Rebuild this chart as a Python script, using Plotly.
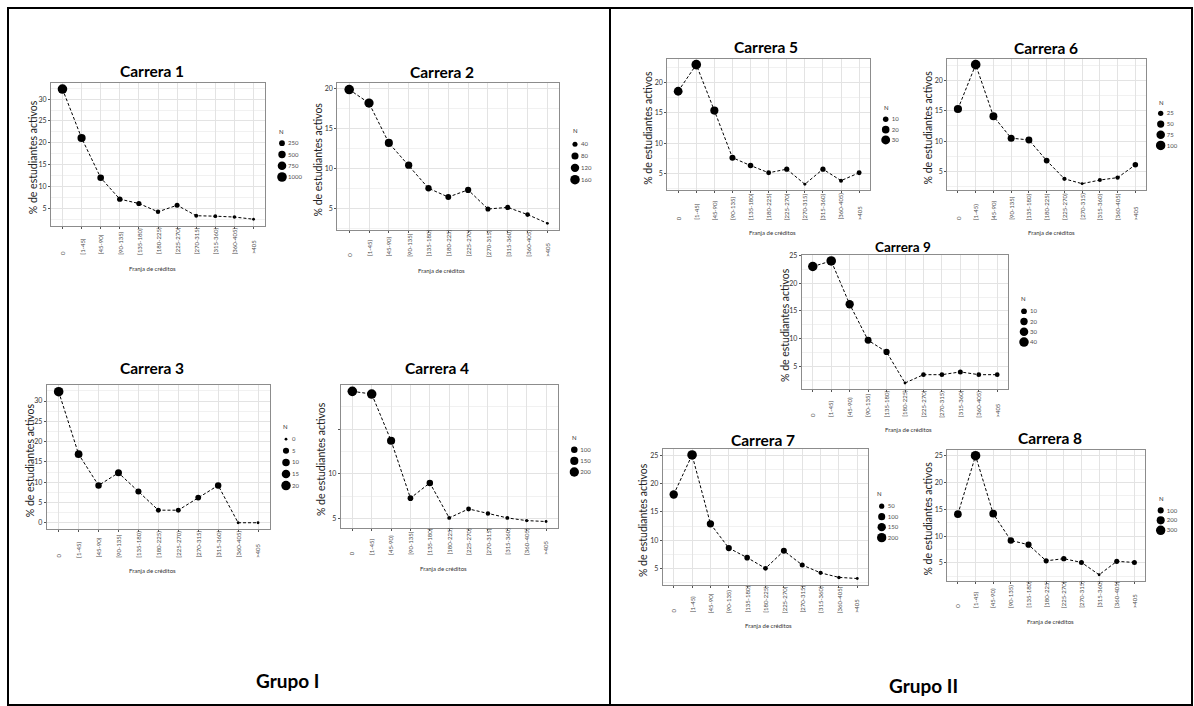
import math
import plotly.graph_objects as go

W, H = 1194, 706

# ---------------- data ----------------
franjas = ["0", "[1-45)", "[45-90)", "[90-135)", "[135-180)", "[180-225)",
           "[225-270)", "[270-315)", "[315-360)", "[360-405)", ">405"]

pct_c1 = [32.3, 21.1, 12.0, 7.1, 6.1, 4.2, 5.7, 3.3, 3.2, 3.0, 2.5]
n_c1 = [1000, 655, 372, 220, 189, 132, 177, 102, 99, 93, 78]
breaks_c1 = [250, 500, 750, 1000]

pct_c2 = [19.9, 18.2, 13.2, 10.4, 7.5, 6.4, 7.3, 4.9, 5.1, 4.2, 3.1]
n_c2 = [163, 149, 109, 85, 62, 53, 60, 41, 42, 35, 25]
breaks_c2 = [40, 80, 120, 160]

pct_c3 = [32.3, 16.9, 9.2, 12.3, 7.7, 3.1, 3.1, 6.2, 9.2, 0.0, 0.0]
n_c3 = [21, 11, 6, 8, 5, 2, 2, 4, 6, 0, 0]
breaks_c3 = [0, 5, 10, 15, 20]

pct_c4 = [19.2, 18.9, 13.7, 7.3, 9.0, 5.1, 6.1, 5.6, 5.1, 4.8, 4.7]
n_c4 = [211, 208, 151, 80, 99, 56, 67, 62, 56, 53, 52]
breaks_c4 = [100, 150, 200]

pct_c5 = [18.6, 23.0, 15.4, 7.6, 6.3, 5.1, 5.7, 3.2, 5.7, 3.8, 5.1]
n_c5 = [29, 36, 24, 12, 10, 8, 9, 5, 9, 6, 8]
breaks_c5 = [10, 20, 30]

pct_c6 = [15.3, 22.6, 14.1, 10.5, 10.2, 6.8, 3.8, 3.0, 3.6, 4.0, 6.1]
n_c6 = [68, 101, 63, 47, 45, 30, 17, 13, 16, 18, 27]
breaks_c6 = [25, 50, 75, 100]

pct_c7 = [18.1, 25.1, 12.9, 8.6, 6.9, 5.0, 8.1, 5.6, 4.2, 3.4, 3.2]
n_c7 = [152, 211, 108, 72, 58, 42, 68, 47, 35, 29, 27]
breaks_c7 = [50, 100, 150, 200]

pct_c8 = [14.1, 25.0, 14.2, 9.2, 8.4, 5.4, 5.8, 5.1, 2.8, 5.3, 5.1]
n_c8 = [176, 313, 178, 115, 106, 68, 73, 64, 35, 66, 64]
breaks_c8 = [100, 200, 300]

pct_c9 = [23.0, 24.0, 16.2, 9.7, 7.6, 2.0, 3.5, 3.5, 4.0, 3.5, 3.5]
n_c9 = [39, 41, 28, 17, 13, 3, 6, 6, 7, 6, 6]
breaks_c9 = [10, 20, 30, 40]

# ---------------- layout (pixel positions) ----------------
carreras = [
    dict(name="Carrera 1", pct=pct_c1, n=n_c1, brk=breaks_c1, panel=(51, 265, 79, 223),
         title=(152, 67), xt=(152, 266), yt=33, lab=253, leg=(282, 140, 174), nt=(277, 128)),
    dict(name="Carrera 2", pct=pct_c2, n=n_c2, brk=breaks_c2, panel=(337.3, 559.3, 79.3, 227.3),
         title=(441.7, 68), xt=(441.7, 267.7), yt=318, lab=255, leg=(575, 141, 176.7), nt=(571, 127.7)),
    dict(name="Carrera 3", pct=pct_c3, n=n_c3, brk=breaks_c3, panel=(46.7, 270, 383.3, 528.3),
         title=(152, 366), xt=(152, 570), yt=30, lab=558, leg=(286, 437.7, 484.3), nt=(281, 425)),
    dict(name="Carrera 4", pct=pct_c4, n=n_c4, brk=breaks_c4, panel=(340.7, 557.7, 383, 527),
         title=(437, 366), xt=(443, 567.7), yt=321.7, lab=555, leg=(574.3, 448.3, 470.7), nt=(570, 435.7),
         yticktext=["5", "10", "", ""]),
    dict(name="Carrera 5", pct=pct_c5, n=n_c5, brk=breaks_c5, panel=(667.3, 870, 55, 187.3),
         title=(765.7, 43.3), xt=(772.3, 229.3), yt=648.3, lab=218.3, leg=(885.7, 116, 136.7), nt=(881.7, 104.3)),
    dict(name="Carrera 6", pct=pct_c6, n=n_c6, brk=breaks_c6, panel=(947.3, 1146, 55, 186.7),
         title=(1045.7, 44.3), xt=(1051, 230), yt=928.3, lab=218.3, leg=(1160.7, 110, 142.3), nt=(1156.7, 99)),
    dict(name="Carrera 9", pct=pct_c9, n=n_c9, brk=breaks_c9, panel=(801.7, 1008.3, 252.3, 387.3),
         title=(903.3, 244.3), xt=(908.3, 428.3), yt=785, lab=416.7, leg=(1024, 309, 340), nt=(1019.3, 295.7),
         tsize=13.5),
    dict(name="Carrera 7", pct=pct_c7, n=n_c7, brk=breaks_c7, panel=(662.7, 868.3, 447.3, 584),
         title=(763, 438), xt=(768.3, 625), yt=642.3, lab=613.3, leg=(881.7, 505, 536.7), nt=(875, 492.7)),
    dict(name="Carrera 8", pct=pct_c8, n=n_c8, brk=breaks_c8, panel=(947.3, 1145, 448.3, 580),
         title=(1050.3, 436.7), xt=(1050, 621), yt=928.3, lab=608.3, leg=(1160.7, 509.3, 529.3), nt=(1156.7, 497.3)),
]

FONT = "Lato"
BORDER = "#8c8c8c"
GRID = "#e3e3e3"
MINOR = "#f1f1f1"
TXT = "#4d4d4d"
DMIN, DMAX = 2.8, 9.6


def fx(x):
    return x / W


def fy(y):
    return 1 - y / H


def diam(v, lo, hi):
    return DMIN + (DMAX - DMIN) * math.sqrt(max(v - lo, 0) / (hi - lo))


fig = go.Figure()
layout = {}
annotations = []

for i, c in enumerate(carreras):
    k_main = 2 * i + 1
    k_leg = 2 * i + 2
    xm = "x" if k_main == 1 else f"x{k_main}"
    ym = "y" if k_main == 1 else f"y{k_main}"
    xl, yl = f"x{k_leg}", f"y{k_leg}"
    xm_name = "xaxis" if k_main == 1 else f"xaxis{k_main}"
    ym_name = "yaxis" if k_main == 1 else f"yaxis{k_main}"

    lo, hi = min(c["n"]), max(c["n"])
    sizes = [diam(v, lo, hi) for v in c["n"]]

    fig.add_trace(go.Scatter(
        x=franjas, y=c["pct"], xaxis=xm, yaxis=ym, mode="lines+markers",
        line=dict(color="black", width=1, dash="3px,2px"),
        marker=dict(color="black", size=sizes, opacity=1, line=dict(width=0)),
        showlegend=False, hoverinfo="skip"))

    x0, x1, y0, y1 = c["panel"]
    pmin, pmax = min(c["pct"]), max(c["pct"])
    pad = 0.05 * (pmax - pmin)
    yr = [pmin - pad, pmax + pad]
    tickvals = [v for v in range(0, 40, 5) if yr[0] <= v <= yr[1] + 0.2]
    ticktext = c.get("yticktext", [str(v) for v in tickvals])

    layout[xm_name] = dict(
        domain=[fx(x0), fx(x1)], anchor=ym, type="category", categoryarray=franjas,
        range=[-0.6, len(franjas) - 0.4], showgrid=True, gridcolor=GRID, gridwidth=1,
        showline=True, mirror=True, linecolor=BORDER, linewidth=1, ticks="outside",
        ticklen=2, tickcolor="#555", showticklabels=False, zeroline=False, fixedrange=True)
    layout[ym_name] = dict(
        domain=[fy(y1), fy(y0)], anchor=xm, range=yr, tickvals=tickvals, ticktext=ticktext,
        tickfont=dict(family=FONT, size=7, color="#333"), ticks="outside", ticklen=2,
        tickcolor="#555", showgrid=True, gridcolor=GRID, gridwidth=1,
        minor=dict(dtick=2.5, tick0=0, showgrid=True, gridcolor=MINOR, gridwidth=1),
        showline=True, mirror=True, linecolor=BORDER, linewidth=1, zeroline=False,
        fixedrange=True)

    # legend as a small key axis
    cx, ly0, ly1 = c["leg"]
    kb = len(c["brk"])
    sp = (ly1 - ly0) / (kb - 1)
    labels = [str(b) for b in c["brk"]]
    fig.add_trace(go.Scatter(
        x=[1] * kb, y=labels, xaxis=xl, yaxis=yl, mode="markers",
        marker=dict(color="black", size=[diam(b, lo, hi) for b in c["brk"]], opacity=1,
                    line=dict(width=0)),
        showlegend=False, hoverinfo="skip"))
    layout[f"xaxis{k_leg}"] = dict(domain=[fx(cx - 5), fx(cx + 5)], anchor=yl, range=[0, 2],
                                   visible=False, fixedrange=True)
    layout[f"yaxis{k_leg}"] = dict(
        domain=[fy(ly1 + sp / 2), fy(ly0 - sp / 2)], anchor=xl, type="category",
        categoryarray=labels, range=[kb - 0.5, -0.5], side="right", showgrid=False,
        showline=False, zeroline=False, ticks="", tickfont=dict(family=FONT, size=6, color=TXT),
        fixedrange=True)

    # texts
    tx, ty = c["title"]
    annotations.append(dict(text=f"<b>{c['name']}</b>", x=fx(tx), y=fy(ty), xref="paper", yref="paper",
                            showarrow=False, xanchor="center", yanchor="middle",
                            font=dict(family=FONT, size=c.get("tsize", 15.5), color="black")))
    xtx, xty = c["xt"]
    annotations.append(dict(text="Franja de créditos", x=fx(xtx), y=fy(xty), xref="paper", yref="paper",
                            showarrow=False, xanchor="center", yanchor="middle",
                            font=dict(family=FONT, size=6, color="#333")))
    annotations.append(dict(text="% de estudiantes activos", x=fx(c["yt"]), y=fy((y0 + y1) / 2 + 3),
                            xref="paper", yref="paper", showarrow=False, textangle=-90,
                            xanchor="center", yanchor="middle",
                            font=dict(family=FONT, size=10.5, color="#222")))
    ntx, nty = c["nt"]
    annotations.append(dict(text="N", x=fx(ntx), y=fy(nty), xref="paper", yref="paper",
                            showarrow=False, xanchor="left", yanchor="middle",
                            font=dict(family=FONT, size=6, color="#333")))
    for lab in franjas:
        annotations.append(dict(text=lab, x=lab, xref=xm, y=fy(c["lab"]), yref="paper",
                                showarrow=False, textangle=-90, xanchor="center", yanchor="bottom",
                                borderpad=0,
                                font=dict(family=FONT, size=6, color=TXT)))

annotations.append(dict(text="<b>Grupo I</b>", x=fx(287), y=fy(680), xref="paper", yref="paper",
                        showarrow=False, xanchor="center", yanchor="middle",
                        font=dict(family=FONT, size=19, color="black")))
annotations.append(dict(text="<b>Grupo II</b>", x=fx(923), y=fy(685), xref="paper", yref="paper",
                        showarrow=False, xanchor="center", yanchor="middle",
                        font=dict(family=FONT, size=19, color="black")))

shapes = [
    dict(type="rect", xref="paper", yref="paper", x0=fx(8), x1=fx(610), y0=fy(705), y1=fy(4),
         line=dict(color="black", width=2)),
    dict(type="rect", xref="paper", yref="paper", x0=fx(610), x1=fx(1192), y0=fy(705), y1=fy(4),
         line=dict(color="black", width=2)),
]

fig.update_layout(
    width=W, height=H, margin=dict(l=0, r=0, t=0, b=0),
    paper_bgcolor="white", plot_bgcolor="white",
    annotations=annotations, shapes=shapes, showlegend=False,
    font=dict(family=FONT), **layout)

fig.write_html("out.html", config={"displayModeBar": False},
               post_script="document.body.style.margin='0px';")
